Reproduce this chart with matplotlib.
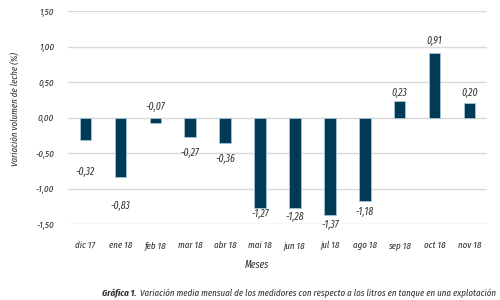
import matplotlib
matplotlib.use("Agg")
import matplotlib.pyplot as plt
from matplotlib import font_manager as fm

months = ["dic 17", "ene 18", "feb 18", "mar 18", "abr 18", "mai 18",
          "jun 18", "jul 18", "ago 18", "sep 18", "oct 18", "nov 18"]
values = [-0.32, -0.83, -0.07, -0.27, -0.36, -1.27,
          -1.28, -1.37, -1.18, 0.23, 0.91, 0.20]
yticks = [-1.5, -1.0, -0.5, 0.0, 0.5, 1.0, 1.5]
ytick_labels = ["-1,50", "-1,00", "-0,50", "0,00", "0,50", "1,00", "1,50"]
# label positions (data units) as placed in the source chart
label_y = [-0.76, -1.24, 0.15, -0.50, -0.58, -1.36,
           -1.40, -1.51, -1.33, 0.35, 1.08, 0.35]

italic_fams = {f.name for f in fm.fontManager.ttflist if f.style == 'italic'}
prefs = ["Fira Sans Extra Condensed", "Fira Sans Condensed", "Asap Condensed",
         "Roboto Condensed", "Encode Sans Condensed", "Barlow Condensed",
         "Liberation Sans Narrow"]
chosen = [f for f in prefs if f in italic_fams][:1]
fam = chosen + ["DejaVu Sans"]

plt.rcParams['font.family'] = fam
plt.rcParams['font.style'] = 'italic'

fig = plt.figure(figsize=(5, 3), dpi=100)
ax = fig.add_axes([0.136, 0.253, 0.838, 0.710])

x = range(len(months))
ax.bar(x, values, width=0.33, color="#003a57", edgecolor="#a9c4d4",
       linewidth=0.6, zorder=3)
ax.set_xlim(-0.5, len(months) - 0.5)
ax.set_ylim(-1.5, 1.5)
ax.set_yticks(yticks)
ax.set_yticklabels(ytick_labels)
ax.set_xticks(list(x))
ax.set_xticklabels(months)
ax.grid(axis='y', color="#d9d9d9", linewidth=1.0, zorder=0)
for s in ax.spines.values():
    s.set_visible(False)
ax.tick_params(axis='both', length=0, colors="#333333", labelsize=7)
ax.tick_params(axis='y', pad=10)
ax.tick_params(axis='x', pad=12)

for xi, v, ly in zip(x, values, label_y):
    ax.text(xi, ly, f"{v:.2f}".replace(".", ","), ha='center', va='center',
            fontsize=7.5, color="#333333")

fig.text(0.032, 0.635, "Variación volumen de leche (%)", rotation=90,
         ha='center', va='center', fontsize=7, color="#333333")
fig.text(0.514, 0.117, "Meses", ha='center', va='center', fontsize=7.5,
         color="#333333")
t1 = fig.text(0.204, 0.006, "Gráfica 1.", ha='left', va='bottom', fontsize=7,
              fontweight='bold', color="#333333")
fig.canvas.draw()
bb = t1.get_window_extent(renderer=fig.canvas.get_renderer())
x2 = (bb.x1 + 3) / fig.bbox.width
fig.text(x2, 0.006,
         "Variación media mensual de los medidores con respecto a los litros en tanque en una explotación",
         ha='left', va='bottom', fontsize=7, color="#333333")

fig.savefig("out.png", dpi=100)
